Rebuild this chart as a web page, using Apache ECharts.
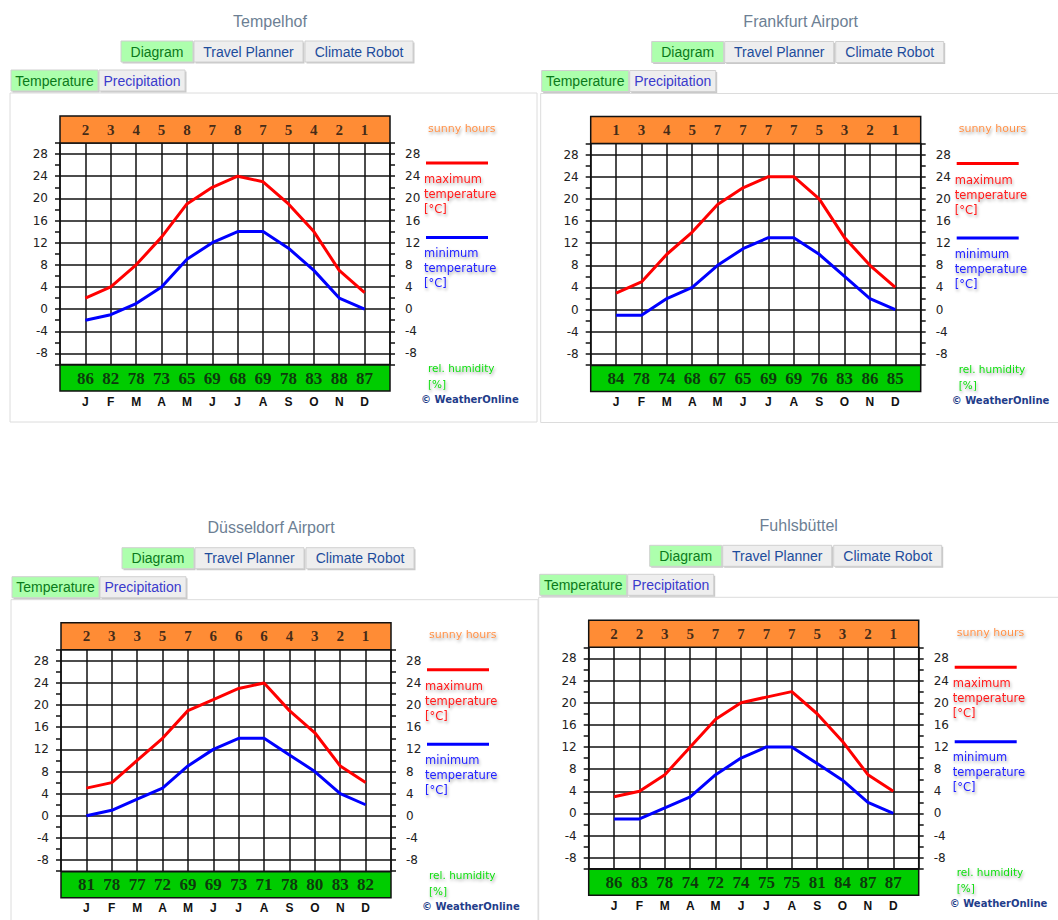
<!DOCTYPE html>
<html><head><meta charset="utf-8">
<script src="https://cdn.jsdelivr.net/npm/echarts@6/dist/echarts.min.js"></script>
<style>html,body{margin:0;padding:0;background:#fff}#c{width:1058px;height:920px}</style>
</head><body><div id="c"></div>
<script>
// ---- data ----
const months = ['J','F','M','A','M','J','J','A','S','O','N','D'];
const yTickLabels = [-8,-4,0,4,8,12,16,20,24,28];
const stations = ['Tempelhof','Frankfurt Airport','Düsseldorf Airport','Fuhlsbüttel'];

const tempelhofSunny = [2,3,4,5,8,7,8,7,5,4,2,1];
const tempelhofHumidity = [86,82,78,73,65,69,68,69,78,83,88,87];
const tempelhofMax = [2,4,8,13,19,22,24,23,19,14,7,3];
const tempelhofMin = [-2,-1,1,4,9,12,14,14,11,7,2,0];

const frankfurtSunny = [1,3,4,5,7,7,7,7,5,3,2,1];
const frankfurtHumidity = [84,78,74,68,67,65,69,69,76,83,86,85];
const frankfurtMax = [3,5,10,14,19,22,24,24,20,13,8,4];
const frankfurtMin = [-1,-1,2,4,8,11,13,13,10,6,2,0];

const duesseldorfSunny = [2,3,3,5,7,6,6,6,4,3,2,1];
const duesseldorfHumidity = [81,78,77,72,69,69,73,71,78,80,83,82];
const duesseldorfMax = [5,6,10,14,19,21,23,24,19,15,9,6];
const duesseldorfMin = [0,1,3,5,9,12,14,14,11,8,4,2];

const fuhlsbuettelSunny = [2,2,3,5,7,7,7,7,5,3,2,1];
const fuhlsbuettelHumidity = [86,83,78,74,72,74,75,75,81,84,87,87];
const fuhlsbuettelMax = [3,4,7,12,17,20,21,22,18,13,7,4];
const fuhlsbuettelMin = [-1,-1,1,3,7,10,12,12,9,6,2,0];

// ---- layout ----
const panels = [
  {name: stations[0], ox: 0,     oy: 0,     sunny: tempelhofSunny,    hum: tempelhofHumidity,    max: tempelhofMax,    min: tempelhofMin},
  {name: stations[1], ox: 530.7, oy: 0.5,   sunny: frankfurtSunny,    hum: frankfurtHumidity,    max: frankfurtMax,    min: frankfurtMin},
  {name: stations[2], ox: 1,     oy: 506.7, sunny: duesseldorfSunny,  hum: duesseldorfHumidity,  max: duesseldorfMax,  min: duesseldorfMin},
  {name: stations[3], ox: 528.7, oy: 504.3, sunny: fuhlsbuettelSunny, hum: fuhlsbuettelHumidity, max: fuhlsbuettelMax, min: fuhlsbuettelMin}
];

const SANS = 'Arial, "Liberation Sans", sans-serif';
const VERD = '"DejaVu Sans", Verdana, sans-serif';
const SERIF = '"Liberation Serif", "Times New Roman", serif';

const grid = [], xAxis = [], yAxis = [], series = [], graphic = [];

function txt(x, y, text, opt) {
  graphic.push(Object.assign({type: 'text', x: x, y: y, silent: true,
    style: Object.assign({text: text, fontFamily: SANS, fontSize: 14, fill: '#000', align: 'left', verticalAlign: 'middle'}, opt || {})}, {}));
}
function rect(x, y, w, h, style, z) {
  graphic.push({type: 'rect', silent: true, z: z || 0, shape: {x: x, y: y, width: w, height: h}, style: style});
}
function line(x1, y1, x2, y2, color, w) {
  graphic.push({type: 'line', silent: true, shape: {x1: x1, y1: y1, x2: x2, y2: y2}, style: {stroke: color, lineWidth: w}});
}
const shadow = {textShadowColor: 'rgba(0,0,0,0.35)', textShadowBlur: 3, textShadowOffsetX: 1, textShadowOffsetY: 2};

panels.forEach((p, k) => {
  const ox = p.ox, oy = p.oy;
  const gi = grid.length;
  // main plot grid
  grid.push({left: ox + 60, top: oy + 143, width: 330, height: 221.5, show: true,
    backgroundColor: '#fff', borderColor: '#111', borderWidth: 1.5});
  // sunny-hours band
  grid.push({left: ox + 60, top: oy + 116, width: 330, height: 27, show: true,
    backgroundColor: '#ff8c35', borderColor: '#111', borderWidth: 1.5});
  // humidity band
  grid.push({left: ox + 60, top: oy + 365, width: 330, height: 26, show: true,
    backgroundColor: '#00cc00', borderColor: '#111', borderWidth: 1.5});

  const xi = xAxis.length;
  xAxis.push({type: 'value', gridIndex: gi, min: 0, max: 13, interval: 1,
    axisLine: {show: false}, axisTick: {show: false},
    splitLine: {show: true, lineStyle: {color: '#111', width: 1.5}},
    axisLabel: {margin: 31, fontFamily: SANS, fontWeight: 'bold', fontSize: 12, color: '#111',
      formatter: v => (v >= 1 && v <= 12 ? months[v - 1] : '')}});
  xAxis.push({type: 'value', gridIndex: gi + 1, min: 0, max: 13, show: false});
  xAxis.push({type: 'value', gridIndex: gi + 2, min: 0, max: 13, show: false});

  const yi = yAxis.length;
  const yLab = v => (yTickLabels.indexOf(v) >= 0 ? String(v) : '');
  yAxis.push({type: 'value', gridIndex: gi, position: 'left', min: -10, max: 30, interval: 2,
    axisLine: {show: false},
    axisTick: {show: true, length: 5, lineStyle: {color: '#111', width: 1.5}},
    splitLine: {show: true, lineStyle: {color: ['rgba(0,0,0,0)', '#111'], width: 1.5}},
    axisLabel: {margin: 12, fontFamily: VERD, fontSize: 12, color: '#222', formatter: yLab}});
  yAxis.push({type: 'value', gridIndex: gi, position: 'right', min: -10, max: 30, interval: 2,
    axisLine: {show: false},
    axisTick: {show: true, length: 5, lineStyle: {color: '#111', width: 1.5}},
    splitLine: {show: false},
    axisLabel: {margin: 15, fontFamily: VERD, fontSize: 12, color: '#222', formatter: yLab}});
  yAxis.push({type: 'value', gridIndex: gi + 1, min: 0, max: 1, show: false});
  yAxis.push({type: 'value', gridIndex: gi + 2, min: 0, max: 1, show: false});

  series.push({type: 'line', name: 'maximum temperature', xAxisIndex: xi, yAxisIndex: yi,
    data: p.max.map((v, i) => [i + 1, v]), symbol: 'none', z: 5,
    lineStyle: {color: '#ff0000', width: 3}, itemStyle: {color: '#ff0000'}});
  series.push({type: 'line', name: 'minimum temperature', xAxisIndex: xi, yAxisIndex: yi,
    data: p.min.map((v, i) => [i + 1, v]), symbol: 'none', z: 5,
    lineStyle: {color: '#0000ff', width: 3}, itemStyle: {color: '#0000ff'}});
  series.push({type: 'scatter', name: 'sunny hours', xAxisIndex: xi + 1, yAxisIndex: yi + 2,
    data: p.sunny.map((v, i) => [i + 1, 0.5, v]), symbolSize: 1, itemStyle: {color: 'rgba(0,0,0,0)'},
    label: {show: true, position: 'inside', formatter: q => q.value[2], fontFamily: SERIF,
      fontWeight: 'bold', fontSize: 15, color: '#111'}});
  series.push({type: 'scatter', name: 'rel. humidity', xAxisIndex: xi + 2, yAxisIndex: yi + 3,
    data: p.hum.map((v, i) => [i + 1, 0.5, v]), symbolSize: 1, itemStyle: {color: 'rgba(0,0,0,0)'},
    label: {show: true, position: 'inside', formatter: q => q.value[2], fontFamily: SERIF,
      fontWeight: 'bold', fontSize: 17, color: '#111'}});

  // panel frame
  rect(ox + 10, oy + 93, 527, 329, {fill: 'none', stroke: '#dcdcdc', lineWidth: 1});
  // title
  txt(ox + 270, oy + 21, p.name, {fontSize: 16, fill: '#6d7f94', align: 'center'});
  // buttons
  const btns = [
    {t: 'Diagram', x: 121, w: 72, fill: '#adffad', c: '#0a7a1a'},
    {t: 'Travel Planner', x: 194, w: 109, fill: '#eeeeee', c: '#1d4c9c'},
    {t: 'Climate Robot', x: 305, w: 108, fill: '#eeeeee', c: '#1d4c9c'}
  ];
  btns.forEach(b => {
    rect(ox + b.x + 1.5, oy + 42.5, b.w, 21, {fill: '#c9c9c9'});
    rect(ox + b.x, oy + 41, b.w, 21, {fill: b.fill, stroke: '#d0d0d0', lineWidth: 1});
    txt(ox + b.x + b.w / 2, oy + 51.5, b.t, {fontSize: 14, fill: b.c, align: 'center'});
  });
  const tabs = [
    {t: 'Temperature', x: 11, w: 87, fill: '#adffad', c: '#0a7a1a'},
    {t: 'Precipitation', x: 99, w: 86, fill: '#eeeeee', c: '#3a3acc'}
  ];
  tabs.forEach(b => {
    rect(ox + b.x + 1.5, oy + 71.5, b.w, 21, {fill: '#c9c9c9'});
    rect(ox + b.x, oy + 70, b.w, 21, {fill: b.fill, stroke: '#d0d0d0', lineWidth: 1});
    txt(ox + b.x + b.w / 2, oy + 80.5, b.t, {fontSize: 14, fill: b.c, align: 'center'});
  });

  // legend
  txt(ox + 428, oy + 128, 'sunny hours', Object.assign({fontFamily: VERD, fontSize: 11, fill: '#ff9148'}, shadow));
  line(ox + 426, oy + 163, ox + 488, oy + 163, '#ff0000', 3);
  ['maximum', 'temperature', '[°C]'].forEach((s, i) =>
    txt(ox + 424, oy + 179 + i * 15, s, Object.assign({fontFamily: VERD, fontSize: 11.5, fill: '#ff1a1a'}, shadow)));
  line(ox + 426, oy + 237.5, ox + 488, oy + 237.5, '#0000ff', 3);
  ['minimum', 'temperature', '[°C]'].forEach((s, i) =>
    txt(ox + 424, oy + 253 + i * 15, s, Object.assign({fontFamily: VERD, fontSize: 11.5, fill: '#2222ff'}, shadow)));
  txt(ox + 428, oy + 368, 'rel. humidity', Object.assign({fontFamily: VERD, fontSize: 10.5, fill: '#11dd11'}, shadow));
  txt(ox + 428, oy + 384, '[%]', Object.assign({fontFamily: VERD, fontSize: 10.5, fill: '#11dd11'}, shadow));
  txt(ox + 421, oy + 399.5, '© WeatherOnline', {fontFamily: VERD, fontSize: 10, fill: '#1f3d8a', fontWeight: 'bold'});
});

const chart = echarts.init(document.getElementById('c'), null, {renderer: 'svg', width: 1058, height: 920});
chart.setOption({
  animation: false,
  backgroundColor: '#fff',
  grid: grid, xAxis: xAxis, yAxis: yAxis, series: series, graphic: graphic
});
</script></body></html>
